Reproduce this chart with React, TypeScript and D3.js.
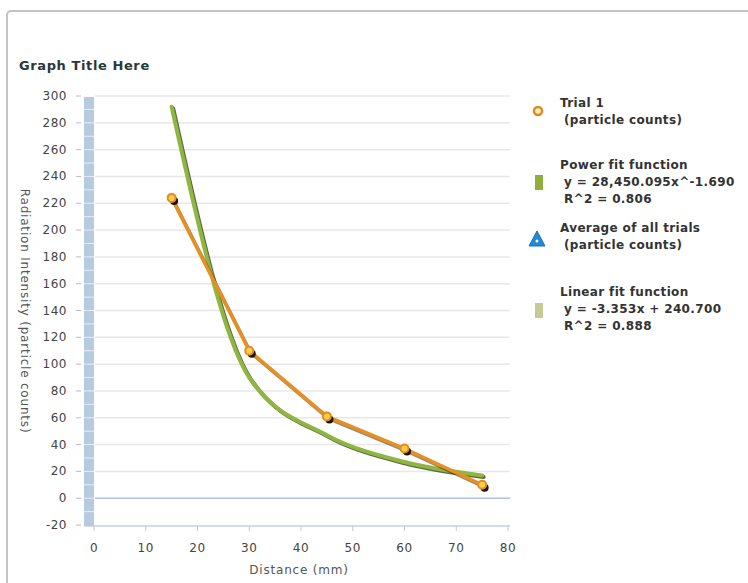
import React, { useEffect, useRef } from 'react'
import * as d3 from 'd3'

// values
const distances = [15, 30, 45, 60, 75]
const trial1 = [224, 110, 61, 37, 10]
const powerFit = [292, 90, 47, 27, 17]
const xTicks = [0, 10, 20, 30, 40, 50, 60, 70, 80]
const yTicks = [-20, 0, 20, 40, 60, 80, 100, 120, 140, 160, 180, 200, 220, 240, 260, 280, 300]

const legendTrial = ['Trial 1', ' (particle counts)']
const legendPower = ['Power fit function', ' y = 28,450.095x^-1.690', ' R^2 = 0.806']
const legendAverage = ['Average of all trials', ' (particle counts)']
const legendLinear = ['Linear fit function', ' y = -3.353x + 240.700', ' R^2 = 0.888']

const W = 748
const H = 583

export default function App () {
  const ref = useRef(null)

  useEffect(() => {
    var svg = d3.select(ref.current)
    svg.selectAll('*').remove()

    var font = 'DejaVu Sans, Verdana, sans-serif'
    var x = d3.scaleLinear().domain([0, 80]).range([94, 508])
    var y = d3.scaleLinear().domain([-20, 300]).range([525, 96])

    // outer frame
    svg.append('rect')
      .attr('x', 7).attr('y', 11).attr('width', 780).attr('height', 620)
      .attr('rx', 4)
      .attr('fill', '#fff')
      .attr('stroke', '#c4c4c4')
      .attr('stroke-width', 2)

    svg.append('text')
      .attr('x', 19).attr('y', 70)
      .attr('font-family', font).attr('font-size', 13).attr('font-weight', 'bold')
      .attr('letter-spacing', 0.6)
      .attr('fill', '#2a3838')
      .text('Graph Title Here')

    // horizontal grid
    svg.append('g').selectAll('line')
      .data(yTicks.filter(d => d > 0))
      .enter().append('line')
      .attr('x1', 95).attr('x2', 510)
      .attr('y1', d => y(d)).attr('y2', d => y(d))
      .attr('stroke', '#e8e8e8').attr('stroke-width', 1.5)

    // zero line and bottom axis
    svg.append('line')
      .attr('x1', 95).attr('x2', 510).attr('y1', y(0)).attr('y2', y(0))
      .attr('stroke', '#aec3d8').attr('stroke-width', 1.5)
    svg.append('line')
      .attr('x1', 84).attr('x2', 510).attr('y1', y(-20) + 1).attr('y2', y(-20) + 1)
      .attr('stroke', '#c3d2e2').attr('stroke-width', 1.5)

    // striped wall along the y axis
    svg.append('rect')
      .attr('x', 84).attr('y', y(300) + 1).attr('width', 10).attr('height', y(-20) - y(300))
      .attr('fill', '#b7cbe0')
    svg.append('g').selectAll('line')
      .data(d3.range(-10, 300, 10))
      .enter().append('line')
      .attr('x1', 84).attr('x2', 94)
      .attr('y1', d => y(d)).attr('y2', d => y(d))
      .attr('stroke', '#e6eef6').attr('stroke-width', 1)

    // y axis ticks and labels
    var yAxis = svg.append('g')
    yAxis.selectAll('line')
      .data(yTicks)
      .enter().append('line')
      .attr('x1', 76).attr('x2', 81)
      .attr('y1', d => y(d)).attr('y2', d => y(d))
      .attr('stroke', '#bbb')
    yAxis.selectAll('text')
      .data(yTicks)
      .enter().append('text')
      .attr('x', 67).attr('y', d => y(d) + 4)
      .attr('text-anchor', 'end')
      .attr('font-family', font).attr('font-size', 12).attr('letter-spacing', 0.5)
      .attr('fill', '#444')
      .text(d => d)

    // x axis ticks and labels
    var xAxis = svg.append('g')
    xAxis.selectAll('line')
      .data(xTicks)
      .enter().append('line')
      .attr('x1', d => x(d)).attr('x2', d => x(d))
      .attr('y1', y(-20) + 1).attr('y2', y(-20) + 6)
      .attr('stroke', '#c8c8c8')
    xAxis.selectAll('text')
      .data(xTicks)
      .enter().append('text')
      .attr('x', d => x(d)).attr('y', 552)
      .attr('text-anchor', 'middle')
      .attr('font-family', font).attr('font-size', 12).attr('letter-spacing', 0.5)
      .attr('fill', '#444')
      .text(d => d)

    svg.append('text')
      .attr('x', 299).attr('y', 574)
      .attr('text-anchor', 'middle')
      .attr('font-family', font).attr('font-size', 12).attr('letter-spacing', 0.8)
      .attr('fill', '#555')
      .text('Distance (mm)')

    svg.append('text')
      .attr('transform', 'translate(21,311) rotate(90)')
      .attr('text-anchor', 'middle')
      .attr('font-family', font).attr('font-size', 12).attr('letter-spacing', 0.8)
      .attr('fill', '#555')
      .text('Radiation Intensity (particle counts)')

    // power fit curve
    var powerLine = d3.line()
      .x((d, i) => x(distances[i]))
      .y(d => y(d))
      .curve(d3.curveMonotoneX)

    svg.append('path')
      .datum(powerFit)
      .attr('d', powerLine)
      .attr('transform', 'translate(1.5,1.5)')
      .attr('fill', 'none').attr('stroke', '#34401f').attr('stroke-width', 4)
      .attr('stroke-linecap', 'round').attr('opacity', 0.8)
    svg.append('path')
      .datum(powerFit)
      .attr('d', powerLine)
      .attr('fill', 'none').attr('stroke', '#8fb63e').attr('stroke-width', 4)
      .attr('stroke-linecap', 'round')

    // trial 1 line
    var trialLine = d3.line()
      .x((d, i) => x(distances[i]))
      .y(d => y(d))

    svg.append('path')
      .datum(trial1)
      .attr('d', trialLine)
      .attr('transform', 'translate(1.5,2)')
      .attr('fill', 'none').attr('stroke', '#3a2a10').attr('stroke-width', 3.5)
      .attr('opacity', 0.55)
    svg.append('path')
      .datum(trial1)
      .attr('d', trialLine)
      .attr('fill', 'none').attr('stroke', '#e8901f').attr('stroke-width', 3.5)
      .attr('stroke-linecap', 'round')

    var dots = svg.append('g')
    dots.selectAll('circle.shadow')
      .data(trial1)
      .enter().append('circle')
      .attr('class', 'shadow')
      .attr('cx', (d, i) => x(distances[i]) + 2.5)
      .attr('cy', d => y(d) + 3)
      .attr('r', 4)
      .attr('fill', '#1a1208')
    dots.selectAll('circle.dot')
      .data(trial1)
      .enter().append('circle')
      .attr('class', 'dot')
      .attr('cx', (d, i) => x(distances[i]))
      .attr('cy', d => y(d))
      .attr('r', 4)
      .attr('fill', '#ffd050')
      .attr('stroke', '#e8891a')
      .attr('stroke-width', 2)

    // legend
    var legend = svg.append('g')
      .attr('font-family', font).attr('font-size', 12).attr('font-weight', 'bold')
      .attr('letter-spacing', 0.35)
      .attr('fill', '#333')

    function legendText (lines, top) {
      legend.append('g').selectAll('text')
        .data(lines)
        .enter().append('text')
        .attr('x', (d, i) => i === 0 ? 560 : 564)
        .attr('y', (d, i) => top + i * 17)
        .text(d => d.trim())
    }

    legend.append('circle')
      .attr('cx', 538).attr('cy', 111).attr('r', 4)
      .attr('fill', '#fff4cc').attr('stroke', '#e48a14').attr('stroke-width', 2.5)
    legendText(legendTrial, 107)

    legend.append('rect')
      .attr('x', 535).attr('y', 175).attr('width', 8).attr('height', 15)
      .attr('fill', '#8fae3e')
    legendText(legendPower, 169)

    legend.append('path')
      .attr('d', 'M537,231 L545,246 L529,246 Z')
      .attr('fill', '#2288d8').attr('stroke', '#1a70b8').attr('stroke-width', 1)
      .attr('stroke-linejoin', 'round')
    legend.append('circle')
      .attr('cx', 537).attr('cy', 241).attr('r', 1.5).attr('fill', '#fff')
    legendText(legendAverage, 232)

    legend.append('rect')
      .attr('x', 535).attr('y', 303).attr('width', 8).attr('height', 15)
      .attr('fill', '#c9c995')
    legendText(legendLinear, 296)
  }, [])

  return (
    <div>
      <svg ref={ref} width={W} height={H} style={{ position: 'absolute', left: 0, top: 0 }} />
    </div>
  )
}
